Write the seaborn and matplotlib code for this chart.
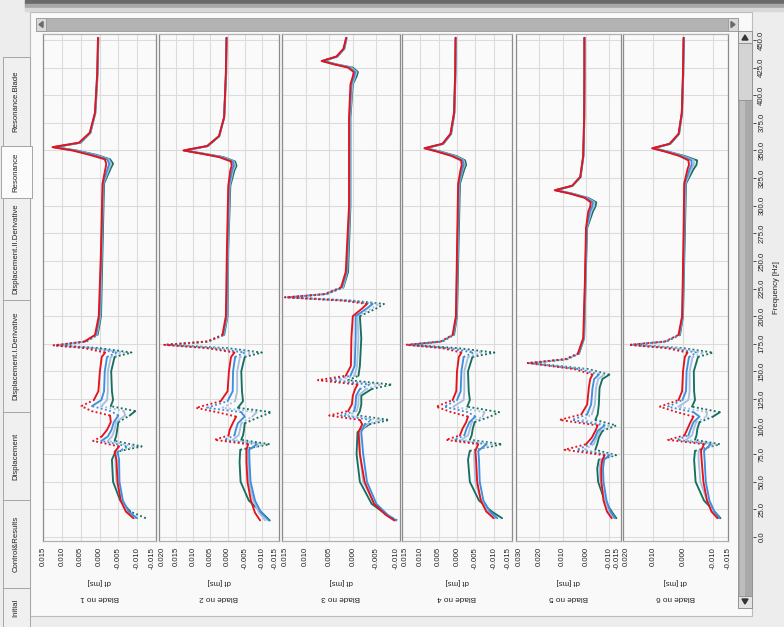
import numpy as np
import pandas as pd
import matplotlib
matplotlib.use("Agg")
import matplotlib.pyplot as plt
import seaborn as sns
from matplotlib.patches import Rectangle, Polygon
from matplotlib.ticker import FixedLocator, MultipleLocator

sns.set_theme(style="white")
plt.rcParams["font.family"] = ["Liberation Sans", "DejaVu Sans"]
plt.rcParams["axes.unicode_minus"] = False

# ---------------- data ----------------
blade_names = ["Blade no 1", "Blade no 2", "Blade no 3", "Blade no 4", "Blade no 5", "Blade no 6"]
tab_names = ["Resonance.Blade", "Resonance", "Displacement.II.Derivative",
             "Displacement.I.Derivative", "Displacement", "Control&Results", "Initial"]
freq_ticks = [0.0, 25.0, 50.0, 75.0, 100.0, 125.0, 150.0, 175.0, 200.0, 225.0,
              250.0, 275.0, 300.0, 325.0, 350.0, 375.0, 400.0, 425.0, 450.0]
dt_ticks_1 = [0.015, 0.010, 0.005, 0.000, -0.005, -0.010, -0.015]
dt_ticks_2 = [0.020, 0.015, 0.010, 0.005, 0.000, -0.005, -0.010, -0.015]
dt_ticks_3 = [0.015, 0.010, 0.005, 0.000, -0.005, -0.010]
dt_ticks_4 = [0.015, 0.010, 0.005, 0.000, -0.005, -0.010, -0.015]
dt_ticks_5 = [0.030, 0.020, 0.010, 0.000, -0.010, -0.015]
dt_ticks_6 = [0.020, 0.010, 0.000, -0.010, -0.015]

f1 = [17, 23, 33, 50, 70, 77, 82, 87, 91, 97, 104, 110, 114, 118.5, 124, 132, 150, 163, 167, 171,
      173.5, 177, 183, 200, 260, 320, 334, 338, 342, 346, 350, 353, 357, 366, 384, 420, 452]
red_1 = [-0.0090, -0.0070, -0.0056, -0.0048, -0.0045, -0.0040, -0.0052, 0.0017, -0.0006, -0.0020,
         -0.0030, -0.0028, 0.0021, 0.0048, 0.0015, 0.0003, -0.0001, -0.0006, -0.0015, 0.0040,
         0.0122, 0.0040, 0.0012, 0.0002, -0.0004, -0.0008, -0.0016, -0.0018, -0.0014, 0.0026,
         0.0072, 0.0125, 0.0055, 0.0026, 0.0012, 0.0006, 0.0004]
teal_1 = [-0.0123, -0.0082, -0.0055, -0.0036, -0.0033, -0.0042, -0.0112, -0.0040, -0.0044, -0.0047,
          -0.0050, -0.0080, -0.0095, -0.0030, -0.0036, -0.0033, -0.0031, -0.0040, -0.0085, 0.0000,
          0.0105, 0.0035, 0.0005, -0.0004, -0.0008, -0.0012, -0.0030, -0.0036, -0.0028, 0.0008,
          0.0061, 0.0118, 0.0050, 0.0024, 0.0011, 0.0005, 0.0003]
blue_1 = [-0.0100, -0.0078, -0.0062, -0.0053, -0.0052, -0.0048, -0.0075, -0.0005, -0.0022, -0.0032,
          -0.0038, -0.0050, -0.0030, 0.0020, -0.0005, -0.0012, -0.0014, -0.0020, -0.0045, 0.0025,
          0.0118, 0.0038, 0.0009, 0.0000, -0.0005, -0.0009, -0.0022, -0.0026, -0.0020, 0.0018,
          0.0068, 0.0123, 0.0053, 0.0025, 0.0012, 0.0006, 0.0004]
light_1 = [-0.0095, -0.0075, -0.0058, -0.0045, -0.0042, -0.0046, -0.0095, -0.0022, -0.0033, -0.0040,
           -0.0044, -0.0068, -0.0065, -0.0005, -0.0020, -0.0022, -0.0022, -0.0030, -0.0065, 0.0012,
           0.0112, 0.0036, 0.0007, -0.0002, -0.0006, -0.0010, -0.0026, -0.0031, -0.0024, 0.0013,
           0.0065, 0.0121, 0.0052, 0.0025, 0.0011, 0.0005, 0.0003]

f2 = [15, 22, 33, 50, 68, 79, 84, 88, 92, 97, 103, 109, 113, 117, 123, 132, 150, 163, 167, 171,
      174, 177, 183, 200, 260, 318, 332, 336, 340, 344, 347, 350, 354, 363, 380, 420, 452]
red_2 = [-0.0095, -0.0080, -0.0068, -0.0058, -0.0055, -0.0055, -0.0060, 0.0038, -0.0003, -0.0006,
         -0.0015, -0.0025, 0.0030, 0.0092, 0.0020, 0.0000, -0.0004, -0.0010, -0.0020, 0.0060,
         0.0185, 0.0060, 0.0015, 0.0005, 0.0002, -0.0002, -0.0008, -0.0012, -0.0010, 0.0025,
         0.0075, 0.0129, 0.0060, 0.0025, 0.0010, 0.0005, 0.0003]
teal_2 = [-0.0123, -0.0100, -0.0062, -0.0038, -0.0035, -0.0037, -0.0123, -0.0040, -0.0045, -0.0048,
          -0.0050, -0.0095, -0.0128, -0.0030, -0.0045, -0.0042, -0.0040, -0.0050, -0.0100, 0.0000,
          0.0170, 0.0055, 0.0010, 0.0000, -0.0002, -0.0008, -0.0020, -0.0026, -0.0022, 0.0012,
          0.0068, 0.0124, 0.0057, 0.0024, 0.0010, 0.0004, 0.0003]
blue_2 = [-0.0120, -0.0098, -0.0080, -0.0067, -0.0064, -0.0063, -0.0085, 0.0010, -0.0020, -0.0024,
          -0.0030, -0.0050, -0.0040, 0.0060, 0.0000, -0.0015, -0.0016, -0.0022, -0.0050, 0.0045,
          0.0180, 0.0058, 0.0013, 0.0003, 0.0000, -0.0004, -0.0013, -0.0018, -0.0015, 0.0020,
          0.0072, 0.0127, 0.0059, 0.0025, 0.0010, 0.0005, 0.0003]
light_2 = [-0.0110, -0.0092, -0.0075, -0.0062, -0.0060, -0.0058, -0.0105, -0.0015, -0.0032, -0.0036,
           -0.0040, -0.0072, -0.0085, 0.0015, -0.0022, -0.0028, -0.0028, -0.0036, -0.0075, 0.0022,
           0.0175, 0.0056, 0.0012, 0.0001, -0.0001, -0.0006, -0.0016, -0.0022, -0.0018, 0.0016,
           0.0070, 0.0126, 0.0058, 0.0024, 0.0010, 0.0004, 0.0003]

f3 = [15, 20, 30, 50, 75, 95, 102, 106, 110, 114, 120, 128, 134, 138, 142, 146, 155, 180, 200, 207,
      211, 214, 217, 220, 226, 240, 300, 380, 410, 417, 421, 425, 428, 431, 435, 442, 452]
red_3 = [-0.0088, -0.0070, -0.0045, -0.0025, -0.0015, -0.0012, -0.0020, -0.0015, 0.0050, 0.0010,
         0.0002, 0.0000, -0.0005, -0.0010, 0.0074, 0.0015, 0.0004, 0.0003, 0.0000, -0.0020,
         -0.0030, 0.0020, 0.0144, 0.0060, 0.0025, 0.0015, 0.0008, 0.0008, 0.0005, 0.0000,
         -0.0002, 0.0010, 0.0040, 0.0066, 0.0035, 0.0020, 0.0014]
teal_3 = [-0.0094, -0.0072, -0.0040, -0.0015, -0.0008, -0.0010, -0.0035, -0.0077, -0.0010, -0.0015,
          -0.0018, -0.0018, -0.0040, -0.0083, 0.0010, -0.0012, -0.0015, -0.0018, -0.0015, -0.0050,
          -0.0066, 0.0000, 0.0130, 0.0055, 0.0020, 0.0010, 0.0005, 0.0005, 0.0000, -0.0008,
          -0.0011, 0.0000, 0.0035, 0.0062, 0.0033, 0.0018, 0.0013]
blue_3 = [-0.0092, -0.0074, -0.0050, -0.0030, -0.0022, -0.0018, -0.0025, -0.0040, 0.0025, -0.0003,
          -0.0006, -0.0007, -0.0015, -0.0035, 0.0050, 0.0005, -0.0004, -0.0006, -0.0006, -0.0030,
          -0.0042, 0.0012, 0.0140, 0.0058, 0.0023, 0.0013, 0.0007, 0.0007, 0.0003, -0.0003,
          -0.0005, 0.0006, 0.0038, 0.0065, 0.0034, 0.0019, 0.0014]
light_3 = [-0.0090, -0.0073, -0.0046, -0.0022, -0.0015, -0.0014, -0.0030, -0.0060, 0.0010, -0.0008,
           -0.0012, -0.0012, -0.0028, -0.0060, 0.0030, -0.0004, -0.0009, -0.0012, -0.0010, -0.0040,
           -0.0055, 0.0006, 0.0135, 0.0056, 0.0021, 0.0012, 0.0006, 0.0006, 0.0001, -0.0005,
           -0.0008, 0.0003, 0.0037, 0.0064, 0.0034, 0.0019, 0.0013]

f4 = [17, 23, 33, 50, 70, 78, 84, 88, 92, 98, 104, 109, 113, 118, 124, 132, 150, 163, 167, 171,
      174, 177, 183, 200, 260, 320, 333, 337, 341, 345, 349, 352, 356, 365, 384, 420, 452]
red_4 = [-0.0100, -0.0080, -0.0065, -0.0055, -0.0052, -0.0050, -0.0058, 0.0030, -0.0008, -0.0015,
         -0.0025, -0.0030, 0.0015, 0.0057, 0.0012, 0.0002, 0.0000, -0.0005, -0.0012, 0.0040,
         0.0139, 0.0045, 0.0012, 0.0003, 0.0000, -0.0003, -0.0010, -0.0013, -0.0011, 0.0015,
         0.0055, 0.0089, 0.0040, 0.0018, 0.0008, 0.0005, 0.0004]
teal_4 = [-0.0123, -0.0095, -0.0060, -0.0035, -0.0030, -0.0035, -0.0123, -0.0035, -0.0040, -0.0043,
          -0.0048, -0.0090, -0.0115, -0.0028, -0.0035, -0.0032, -0.0030, -0.0042, -0.0102, -0.0002,
          0.0125, 0.0040, 0.0008, 0.0000, -0.0004, -0.0008, -0.0020, -0.0025, -0.0022, 0.0002,
          0.0045, 0.0085, 0.0037, 0.0016, 0.0007, 0.0004, 0.0003]
blue_4 = [-0.0110, -0.0090, -0.0072, -0.0062, -0.0060, -0.0058, -0.0080, 0.0008, -0.0020, -0.0026,
          -0.0034, -0.0050, -0.0030, 0.0035, 0.0000, -0.0010, -0.0012, -0.0018, -0.0045, 0.0028,
          0.0135, 0.0043, 0.0011, 0.0002, -0.0001, -0.0005, -0.0014, -0.0018, -0.0015, 0.0010,
          0.0052, 0.0088, 0.0039, 0.0017, 0.0008, 0.0005, 0.0004]
light_4 = [-0.0105, -0.0085, -0.0066, -0.0050, -0.0047, -0.0048, -0.0100, -0.0012, -0.0030, -0.0035,
           -0.0040, -0.0070, -0.0075, 0.0010, -0.0018, -0.0020, -0.0020, -0.0030, -0.0070, 0.0015,
           0.0130, 0.0042, 0.0010, 0.0001, -0.0002, -0.0006, -0.0016, -0.0021, -0.0018, 0.0006,
           0.0049, 0.0087, 0.0038, 0.0017, 0.0008, 0.0004, 0.0003]

f5 = [17, 23, 33, 50, 62, 70, 74, 79, 84, 90, 96, 101, 106, 111, 120, 135, 143, 147, 152, 157.5,
      161, 166, 180, 230, 280, 295, 299, 303, 307, 311, 314, 318, 326, 345, 380, 420, 452]
red_5 = [-0.0110, -0.0090, -0.0075, -0.0066, -0.0065, -0.0070, -0.0080, 0.0092, 0.0000, -0.0025,
         -0.0040, -0.0050, 0.0113, 0.0020, -0.0005, -0.0012, -0.0018, -0.0028, 0.0050, 0.0250,
         0.0090, 0.0035, 0.0012, 0.0005, 0.0000, -0.0010, -0.0018, -0.0020, 0.0005, 0.0070,
         0.0134, 0.0060, 0.0025, 0.0012, 0.0008, 0.0007, 0.0007]
teal_5 = [-0.0130, -0.0110, -0.0080, -0.0052, -0.0048, -0.0055, -0.0129, -0.0040, -0.0048, -0.0055,
          -0.0070, -0.0129, -0.0040, -0.0050, -0.0055, -0.0058, -0.0070, -0.0100, -0.0010, 0.0230,
          0.0080, 0.0030, 0.0008, 0.0002, -0.0005, -0.0030, -0.0040, -0.0044, -0.0010, 0.0060,
          0.0128, 0.0057, 0.0023, 0.0011, 0.0007, 0.0006, 0.0006]
blue_5 = [-0.0125, -0.0105, -0.0088, -0.0075, -0.0073, -0.0078, -0.0100, 0.0040, -0.0020, -0.0038,
          -0.0050, -0.0080, 0.0060, -0.0005, -0.0022, -0.0028, -0.0035, -0.0055, 0.0030, 0.0245,
          0.0087, 0.0033, 0.0010, 0.0004, -0.0002, -0.0017, -0.0026, -0.0029, -0.0001, 0.0066,
          0.0132, 0.0059, 0.0024, 0.0012, 0.0008, 0.0007, 0.0007]
light_5 = [-0.0120, -0.0100, -0.0082, -0.0062, -0.0058, -0.0063, -0.0115, 0.0010, -0.0033, -0.0046,
           -0.0060, -0.0105, 0.0015, -0.0025, -0.0038, -0.0043, -0.0052, -0.0078, 0.0010, 0.0238,
           0.0084, 0.0032, 0.0009, 0.0003, -0.0003, -0.0023, -0.0033, -0.0036, -0.0005, 0.0063,
           0.0130, 0.0058, 0.0024, 0.0011, 0.0007, 0.0006, 0.0006]

f6 = [17, 23, 33, 50, 70, 78, 84, 88, 92, 98, 104, 109, 113, 118, 124, 132, 150, 163, 167, 171,
      174, 177, 183, 200, 260, 320, 333, 337, 341, 345, 349, 352, 356, 365, 384, 420, 452]
red_6 = [-0.0115, -0.0095, -0.0080, -0.0068, -0.0062, -0.0060, -0.0070, 0.0050, -0.0005, -0.0015,
         -0.0025, -0.0035, 0.0020, 0.0077, 0.0015, 0.0003, 0.0000, -0.0006, -0.0015, 0.0055,
         0.0180, 0.0060, 0.0015, 0.0003, -0.0001, -0.0004, -0.0015, -0.0020, -0.0018, 0.0012,
         0.0060, 0.0103, 0.0045, 0.0015, 0.0004, 0.0000, -0.0002]
teal_6 = [-0.0125, -0.0105, -0.0070, -0.0042, -0.0037, -0.0040, -0.0123, -0.0040, -0.0045, -0.0048,
          -0.0055, -0.0100, -0.0123, -0.0030, -0.0040, -0.0037, -0.0036, -0.0050, -0.0100, 0.0000,
          0.0165, 0.0055, 0.0010, 0.0000, -0.0005, -0.0010, -0.0035, -0.0045, -0.0047, -0.0005,
          0.0050, 0.0097, 0.0042, 0.0013, 0.0003, -0.0001, -0.0003]
blue_6 = [-0.0122, -0.0105, -0.0088, -0.0076, -0.0072, -0.0070, -0.0092, 0.0020, -0.0018, -0.0026,
          -0.0035, -0.0055, -0.0035, 0.0050, 0.0002, -0.0010, -0.0012, -0.0020, -0.0045, 0.0038,
          0.0175, 0.0058, 0.0013, 0.0002, -0.0002, -0.0006, -0.0022, -0.0029, -0.0028, 0.0006,
          0.0057, 0.0101, 0.0044, 0.0014, 0.0004, 0.0000, -0.0002]
light_6 = [-0.0118, -0.0100, -0.0080, -0.0058, -0.0052, -0.0052, -0.0110, -0.0010, -0.0030, -0.0036,
           -0.0044, -0.0078, -0.0080, 0.0015, -0.0018, -0.0022, -0.0022, -0.0032, -0.0070, 0.0020,
           0.0170, 0.0057, 0.0012, 0.0001, -0.0003, -0.0008, -0.0028, -0.0036, -0.0037, 0.0001,
           0.0054, 0.0100, 0.0043, 0.0014, 0.0004, -0.0001, -0.0002]

panels = [
    (f1, teal_1, light_1, blue_1, red_1, dt_ticks_1),
    (f2, teal_2, light_2, blue_2, red_2, dt_ticks_2),
    (f3, teal_3, light_3, blue_3, red_3, dt_ticks_3),
    (f4, teal_4, light_4, blue_4, red_4, dt_ticks_4),
    (f5, teal_5, light_5, blue_5, red_5, dt_ticks_5),
    (f6, teal_6, light_6, blue_6, red_6, dt_ticks_6),
]

# ---------------- style / layout ----------------
W, H = 784, 627
series_colors = ["#17705f", "#a9bfdd", "#3f8fe0", "#e3141c"]  # teal, light, blue, red
panel_edges = [(43, 156), (159, 279), (282, 400), (402, 512), (516, 621), (623, 728)]
plot_top, plot_bot = 34, 541
ylim = ((537 - plot_bot) / 1.1044, (537 - plot_top) / 1.1044)
fs = 5.6
txtc = "#222222"

fig = plt.figure(figsize=(W / 100, H / 100), dpi=100, facecolor="#f0f0f0")

# background chrome (pixel coordinates)
bg = fig.add_axes([0, 0, 1, 1], zorder=-10)
bg.set_xlim(0, W)
bg.set_ylim(H, 0)
bg.axis("off")
bg.add_patch(Rectangle((0, 0), W, H, color="#ededed"))
bg.add_patch(Rectangle((25, 0), W - 25, 4, color="#6a6a6a"))
bg.add_patch(Rectangle((25, 4), W - 25, 4, color="#a8a8a8"))
bg.add_patch(Rectangle((25, 8), W - 25, 3, color="#d8d8d8"))
bg.add_patch(Rectangle((30, 12), 722, 604, facecolor="#f9f9f9", edgecolor="#bcbcbc", lw=0.8))
# horizontal scrollbar
bg.add_patch(Rectangle((36, 18), 702, 13, facecolor="#b3b3b3", edgecolor="#9a9a9a", lw=0.6))
bg.add_patch(Rectangle((36, 18), 10, 13, facecolor="#d9d9d9", edgecolor="#9a9a9a", lw=0.6))
bg.add_patch(Rectangle((728, 18), 10, 13, facecolor="#d9d9d9", edgecolor="#9a9a9a", lw=0.6))
bg.add_patch(Polygon([[43, 21.5], [43, 27.5], [39, 24.5]], color="#6a6a6a"))
bg.add_patch(Polygon([[731, 21.5], [731, 27.5], [735, 24.5]], color="#6a6a6a"))
# vertical scrollbar
bg.add_patch(Rectangle((738, 31), 14, 577, facecolor="#a9a9a9", edgecolor="#8f8f8f", lw=0.6))
bg.add_patch(Rectangle((740, 31), 5, 577, facecolor="#bdbdbd", lw=0))
bg.add_patch(Rectangle((738, 31), 14, 12, facecolor="#e3e3e3", edgecolor="#8f8f8f", lw=0.6))
bg.add_patch(Rectangle((738, 43), 14, 57, facecolor="#d4d4d4", edgecolor="#8f8f8f", lw=0.6))
bg.add_patch(Rectangle((738, 596), 14, 12, facecolor="#e3e3e3", edgecolor="#8f8f8f", lw=0.6))
bg.add_patch(Polygon([[742, 40], [748, 40], [745, 35]], color="#333333"))
bg.add_patch(Polygon([[742, 599], [748, 599], [745, 604]], color="#333333"))
# left tabs
tab_spans = [(57, 146), (146, 198), (198, 300), (300, 412), (412, 500), (500, 588), (588, 627)]
for name, (t0, t1) in zip(tab_names, tab_spans):
    sel = name == "Resonance"
    bg.add_patch(Rectangle((3 if not sel else 1, t0), 27 if not sel else 31, t1 - t0,
                           facecolor="#fbfbfb" if sel else "#f0f0f0", edgecolor="#a5a5a5", lw=0.7))
    bg.text(16, (t0 + t1) / 2, name, rotation=90, ha="center", va="center",
            fontsize=fs, color=txtc)

# ---------------- plots ----------------
def segment_frame(ax, f, d):
    pts = ax.transData.transform(np.column_stack([d, f]))
    kinds = []
    for i in range(len(f) - 1):
        dx = abs(pts[i + 1, 0] - pts[i, 0])
        dy = abs(pts[i + 1, 1] - pts[i, 1])
        steep = dx > 1.6 * dy and dx > 6 and max(f[i], f[i + 1]) < 260
        kinds.append("dotted" if steep else "solid")
    rows, run, i = [], 0, 0
    while i < len(kinds):
        j = i
        while j + 1 < len(kinds) and kinds[j + 1] == kinds[i]:
            j += 1
        for k in range(i, j + 2):
            rows.append((d[k], f[k], run, kinds[i]))
        run += 1
        i = j + 1
    return pd.DataFrame(rows, columns=["dt", "freq", "run", "kind"])

n_panels = len(panels)
for p, (freq, *curves, ticks) in enumerate(panels):
    x0, x1 = panel_edges[p]
    ax = fig.add_axes([x0 / W, 1 - plot_bot / H, (x1 - x0) / W, (plot_bot - plot_top) / H])
    ax.set_facecolor("#fafafa")
    ax.set_xlim(ticks[0], ticks[-1])
    ax.set_ylim(*ylim)
    for col, d in zip(series_colors, curves):
        df = segment_frame(ax, freq, d)
        sns.lineplot(data=df, x="dt", y="freq", units="run", estimator=None, sort=False,
                     style="kind", dashes={"solid": "", "dotted": (1, 1.3)},
                     color=col, lw=1.35, legend=False, ax=ax)
    ax.set_xlabel("")
    ax.set_ylabel("")
    ax.set_xlim(ticks[0], ticks[-1])
    ax.set_ylim(*ylim)
    ax.xaxis.set_major_locator(FixedLocator(ticks))
    ax.set_xticklabels([f"{t:.3f}" for t in ticks], rotation=90)
    ax.xaxis.set_minor_locator(MultipleLocator(0.0025 if p < 2 else 0.001))
    ax.yaxis.set_major_locator(FixedLocator(freq_ticks))
    ax.set_yticklabels([])
    ax.grid(True, which="major", color="#dcdcdc", lw=0.8)
    ax.tick_params(axis="x", which="major", direction="out", length=3, width=0.7,
                   color="#555555", labelsize=fs, labelcolor=txtc, pad=1.5)
    ax.tick_params(axis="x", which="minor", direction="out", length=1.8, width=0.5, color="#777777")
    ax.tick_params(axis="y", length=0)
    labels = ax.get_xticklabels()
    if p > 0:
        labels[0].set_horizontalalignment("left")
    if p < n_panels - 1:
        labels[-1].set_horizontalalignment("right")
    for side, sp in ax.spines.items():
        sp.set_color("#8c8c8c" if side in ("left", "right") else "#b0b0b0")
        sp.set_linewidth(0.9)
    cx = (x0 + x1) / 2
    fig.text(cx / W, 1 - 582 / H, "dt [ms]", rotation=180, ha="center", va="center",
             fontsize=fs, color=txtc)
    fig.text(cx / W, 1 - 597 / H, blade_names[p], rotation=180, ha="center", va="center",
             fontsize=fs + 0.3, color=txtc)

# frequency axis (right side, beyond the scrollbar)
axf = fig.add_axes([753 / W, 1 - plot_bot / H, 0.0005, (plot_bot - plot_top) / H])
axf.set_ylim(*ylim)
axf.set_xticks([])
for sp in axf.spines.values():
    sp.set_visible(False)
axf.patch.set_alpha(0)
axf.yaxis.tick_right()
axf.yaxis.set_major_locator(FixedLocator(freq_ticks))
axf.set_yticklabels([f"{v:.1f}" for v in freq_ticks], rotation=90, va="center")
axf.tick_params(axis="y", direction="out", length=2.5, width=0.7, color="#444444",
                labelsize=fs, labelcolor=txtc, pad=1)
fig.text(776 / W, 1 - 288 / H, "Frequency [Hz]", rotation=90, ha="center", va="center",
         fontsize=fs, color=txtc)

fig.savefig("out.png", dpi=100, facecolor=fig.get_facecolor())
